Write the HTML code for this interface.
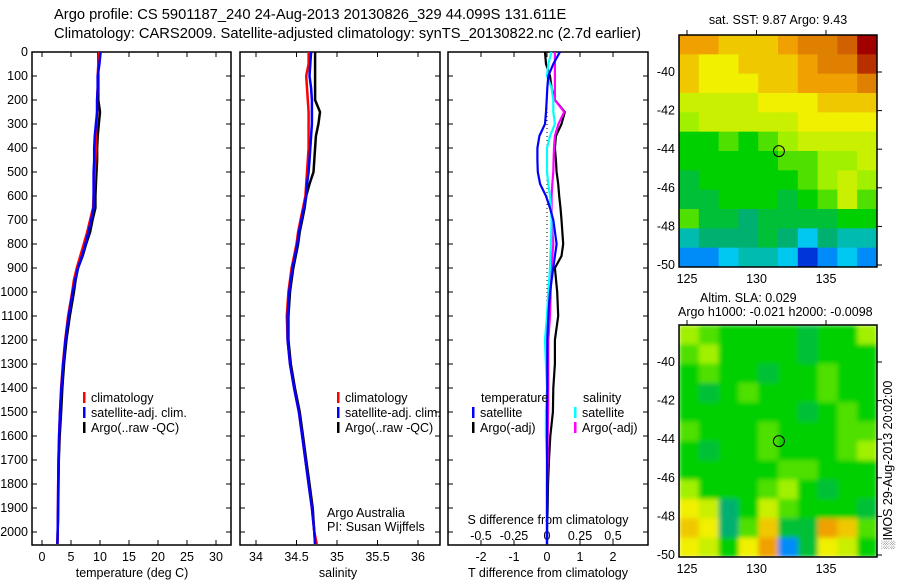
<!DOCTYPE html>
<html><head><meta charset="utf-8"><style>
html,body{margin:0;padding:0;background:#fff;}
svg{display:block;font-family:"Liberation Sans",sans-serif;}
</style></head><body>
<svg id="fig" width="900" height="580" viewBox="0 0 900 580" xmlns="http://www.w3.org/2000/svg">
<defs>
<filter id="blur" x="0" y="0" width="1" height="1"><feGaussianBlur stdDeviation="2.5" edgeMode="duplicate"/></filter>
<clipPath id="slaclip"><rect x="679" y="325" width="198" height="232"/></clipPath>
</defs>
<text x="54" y="19" font-size="14.7">Argo profile: CS 5901187_240 24-Aug-2013 20130826_329 44.099S 131.611E</text>
<text x="54" y="38" font-size="14.7">Climatology: CARS2009. Satellite-adjusted climatology: synTS_20130822.nc (2.7d earlier)</text>
<g id="g"></g>
</svg>
<script>
// ---------- data ----------
const depths = [0,50,100,150,200,250,300,350,400,450,500,550,600,650,700,750,800,850,900,950,1000,1100,1200,1300,1400,1500,1600,1700,1800,1900,2000,2050];
const tempClim = [9.8,9.7,9.6,9.6,9.5,9.5,9.4,9.3,9.3,9.2,9.1,9.0,8.9,8.8,8.3,7.8,7.2,6.6,6.0,5.5,5.2,4.5,4.0,3.6,3.3,3.1,2.95,2.85,2.8,2.75,2.7,2.65];
const tempSat  = [10.1,9.9,9.6,9.6,9.5,9.5,9.3,9.1,9.0,9.0,8.9,8.9,8.9,8.9,8.5,8.0,7.5,6.9,6.2,5.7,5.3,4.6,4.05,3.65,3.35,3.1,2.95,2.85,2.8,2.75,2.7,2.65];
const tempArgo = [9.7,9.7,9.7,9.7,9.7,10.0,9.8,9.6,9.5,9.5,9.4,9.3,9.2,9.2,8.7,8.3,7.6,7.0,6.2,5.8,5.5,4.8,4.2,3.8,3.5,3.3,3.05,2.9,2.85,2.8,2.7,2.65];
const salClim = [34.65,34.65,34.62,34.63,34.64,34.65,34.65,34.65,34.65,34.64,34.63,34.62,34.61,34.58,34.55,34.52,34.5,34.47,34.44,34.42,34.4,34.38,34.39,34.42,34.47,34.53,34.57,34.61,34.65,34.69,34.72,34.75];
const salSat  = [34.68,34.67,34.66,34.68,34.69,34.69,34.69,34.68,34.67,34.66,34.65,34.63,34.62,34.59,34.56,34.53,34.51,34.48,34.45,34.43,34.41,34.39,34.39,34.42,34.47,34.53,34.57,34.61,34.65,34.69,34.72,34.73];
const salArgo = [34.73,34.73,34.73,34.73,34.73,34.79,34.77,34.74,34.73,34.72,34.71,34.66,34.62,34.6,34.57,34.54,34.52,34.49,34.46,34.44,34.42,34.4,34.4,34.43,34.48,34.54,34.58,34.62,34.66,34.7,34.72,34.73];
const dDepths = [0,50,100,150,200,250,300,350,400,450,500,550,600,650,700,800,850,900,1000,1100,1200,1300,1400,1500,1600,1700,1800,1900,2000,2050];
const dTsat  = [0.39,0.19,0.04,0.01,-0.01,-0.03,-0.06,-0.23,-0.29,-0.29,-0.28,-0.21,-0.03,0.09,0.19,0.29,0.24,0.19,0.09,0.04,0.01,0.01,0.01,0,0,0,0,0,0,0];
const dTargo = [-0.06,-0.03,0.09,0.14,0.24,0.54,0.44,0.27,0.24,0.27,0.29,0.34,0.37,0.41,0.44,0.49,0.44,0.24,0.31,0.34,0.24,0.24,0.19,0.18,0.1,0.06,0.03,0.02,0,0];
const dSsat  = [0.035,0.01,0,0.035,0.048,0.048,0.06,0.023,0,0,0,0.01,0.023,0.03,0.035,0.03,0.025,0.023,0.01,0,-0.015,-0.008,0,-0.008,-0.008,0,0,0,0,0];
const dSargo = [0.06,0.06,0.06,0.06,0.06,0.13,0.086,0.06,0.053,0.05,0.048,0.04,0.035,0.035,0.035,0.048,0.04,0.035,0.028,0.023,0.01,0.01,0.01,0.008,0.005,0.005,0,0,0,0];
const depthTicks = [0,100,200,300,400,500,600,700,800,900,1000,1100,1200,1300,1400,1500,1600,1700,1800,1900,2000];
const tTicks = [0,5,10,15,20,25,30];
const sTicks = [34,34.5,35,35.5,36];
const dTticks = [-2,-1,0,1,2];
const dSticks = [-0.5,-0.25,0,0.25,0.5];
const dSlabels = ["-0.5","-0.25","0","0.25","0.5"];
const sstGrid = [
[7.5,7.5,7,7,7,7.5,8,8,8.5,9.5],
[7,6.5,6.5,7,7,7,7.5,8,8,9],
[7,6.5,6.5,6.5,7,7,7.5,7.5,7.5,8],
[6,6,6,6,6.5,6.5,6.5,7,7,7],
[5.5,6,6,6,6,6,6.5,6.5,6.5,6.5],
[4.5,4.5,5,4.5,5,5.5,6,6,6,6],
[4.5,4.5,4.5,4.5,4.5,5,5,5.5,5.5,6],
[4,4.5,4.5,4.5,4.5,4.5,5,5.5,6,5.5],
[4,4,4.5,4.5,4.5,4,4.5,5,6,5],
[5,4,4,3.5,4,4,4,4,4.5,4.5],
[3,3.5,3.5,3.5,4,3.5,2.5,3.5,3,3],
[2,2,2.5,3,3,2.5,1,2,2.5,2]];
const slaGrid = [
[5.5,5,4.5,4.5,4.5,4.5,4,4.5,4.5,5.5],
[5,5.5,4.5,4.5,4.5,4.5,4,4.5,4.5,4.5],
[4.5,5,4.5,4.5,4,4.5,4.5,5,4.5,4.5],
[4.5,4,4.5,5,4.5,4.5,4.5,5,4.5,4.5],
[4.5,4.5,4.5,4.5,4.5,4.5,4,4.5,5,4.5],
[5,4.5,4.5,4.5,5,4.5,4.5,4.5,5,5],
[4.5,4,4.5,4.5,5,4.5,4.5,4.5,5,5.5],
[4.5,4.5,4.5,4.5,4.5,5,5,4.5,4.5,4.5],
[5.5,4.5,4.5,4.5,5,5.5,4.5,4,4.5,4.5],
[6.5,6,3.5,4.5,6,5,4.5,4.5,4.5,4],
[7,6.5,3.5,5,7,4,4,7.5,7,5],
[6.5,6,4.5,6.5,7.5,2,4,6.5,6,4.5]];
const lonTicks = [125,130,135];
const latTicks = [-40,-42,-44,-46,-48,-50];
const argoLon = 131.611, argoLat = -44.099;

// ---------- helpers ----------
const NS="http://www.w3.org/2000/svg", G=document.getElementById('g');
const FS=12.5;
function mk(tag,attrs,txt,parent){const e=document.createElementNS(NS,tag);for(const k in attrs)e.setAttribute(k,attrs[k]);if(txt!==undefined)e.textContent=txt;(parent||G).appendChild(e);return e;}
const top0=52, bot=545;
const yD = d => top0 + d*0.24;
function panel(x0,x1,name){
  const r=mk('rect',{x:x0,y:top0,width:x1-x0,height:bot-top0,fill:'none',stroke:'#000','stroke-width':1.5});
  
  
  depthTicks.forEach(d=>{mk('line',{x1:x0,x2:x0+5,y1:yD(d),y2:yD(d),stroke:'#000'});mk('line',{x1:x1-5,x2:x1,y1:yD(d),y2:yD(d),stroke:'#000'});});
}
function xticks(xs,fx,labels,ylab,name){
  xs.forEach((v,i)=>{const x=fx(v);mk('line',{x1:x,x2:x,y1:bot,y2:bot-5,stroke:'#000'});mk('line',{x1:x,x2:x,y1:top0,y2:top0+5,stroke:'#000'});
    const t=mk('text',{x:x,y:ylab,'font-size':FS,'text-anchor':'middle'},labels?labels[i]:String(v));
    
    });
}
function line(xs,ds,fx,color,w,name){
  const p=xs.map((v,i)=>fx(v).toFixed(1)+','+yD(ds[i]).toFixed(1)).join(' ');
  const e=mk('polyline',{points:p,fill:'none',stroke:color,'stroke-width':w,'stroke-linejoin':'miter'});
  
  
}
function legend(x,y,items,name){
  items.forEach((it,i)=>{mk('rect',{x:x,y:y+i*15-10,width:2.5,height:11,fill:it[1]});
    const t=mk('text',{x:x+8,y:y+i*15,'font-size':FS},it[0]);
    
    });
}
depthTicks.forEach(d=>{const t=mk('text',{x:28,y:yD(d)+4,'font-size':FS,'text-anchor':'end'},String(d));
  
  });

// panel 1 temperature
const fT = v => 42 + v*5.8;
panel(32,231,'temperature-panel');
xticks(tTicks,fT,null,561,'temperature-tick-label');
mk('text',{x:132,y:577,'font-size':FS,'text-anchor':'middle',},'temperature (deg C)');
line(tempArgo,depths,fT,'#000',2.5,'temp-argo-line');
line(tempClim,depths,fT,'#f00',2.5,'temp-climatology-line');
line(tempSat,depths,fT,'#00f',2.5,'temp-satellite-line');
legend(83,402,[['climatology','#f00'],['satellite-adj. clim.','#00f'],['Argo(..raw -QC)','#000']],'temperature-legend-entry');

// panel 2 salinity
const fS = v => 256 + (v-34)*81;
panel(240,440,'salinity-panel');
xticks(sTicks,fS,null,561,'salinity-tick-label');
mk('text',{x:338,y:577,'font-size':FS,'text-anchor':'middle',},'salinity');
line(salArgo,depths,fS,'#000',2.5,'sal-argo-line');
line(salClim,depths,fS,'#f00',2.5,'sal-climatology-line');
line(salSat,depths,fS,'#00f',2.5,'sal-satellite-line');
legend(337,402,[['climatology','#f00'],['satellite-adj. clim.','#00f'],['Argo(..raw -QC)','#000']],'salinity-legend-entry');
mk('text',{x:327,y:517,'font-size':FS,},'Argo Australia');
mk('text',{x:327,y:531,'font-size':FS,},'PI: Susan Wijffels');

// panel 3 differences
const fdT = v => 547 + v*33;
const fdS = v => 547 + v*132;
panel(448,648,'difference-panel');
mk('line',{x1:547,x2:547,y1:100,y2:bot,stroke:'#000','stroke-dasharray':'1,3',});
xticks(dTticks,fdT,null,561,'t-diff-tick-label');
dSticks.forEach((v,i)=>{const t=mk('text',{x:fdS(v),y:540,'font-size':FS,'text-anchor':'middle'},dSlabels[i]);
  
  });
mk('text',{x:548,y:524,'font-size':FS,'text-anchor':'middle',},'S difference from climatology');
mk('text',{x:548,y:577,'font-size':FS,'text-anchor':'middle',},'T difference from climatology');
line(dTargo,dDepths,fdT,'#000',2.2,'t-diff-argo-line');
line(dSargo,dDepths,fdS,'#f0f',2.2,'s-diff-argo-line');
line(dSsat,dDepths,fdS,'#0ff',2.2,'s-diff-satellite-line');
line(dTsat,dDepths,fdT,'#00f',2.2,'t-diff-satellite-line');
mk('text',{x:481,y:402,'font-size':FS,},'temperature');
mk('text',{x:583,y:402,'font-size':FS,},'salinity');
legend(472,417,[['satellite','#00f'],['Argo(-adj)','#000']],'t-diff-legend-entry');
legend(574,417,[['satellite','#0ff'],['Argo(-adj)','#f0f']],'s-diff-legend-entry');

// ---------- maps ----------
const stops=[[0,[0,0,143]],[1.5,[0,80,255]],[2.5,[0,200,240]],[3.5,[0,176,112]],[4.5,[0,208,0]],[5.5,[160,240,0]],[6.5,[240,240,0]],[7.5,[240,160,0]],[8.5,[208,96,0]],[9.5,[160,0,0]]];
function cmap(v){for(let i=0;i<stops.length-1;i++){const a=stops[i],b=stops[i+1];if(v<=b[0]){const t=Math.max(0,(v-a[0])/(b[0]-a[0]));return 'rgb('+a[1].map((c,k)=>Math.round(c+(b[1][k]-c)*t)).join(',')+')';}}return 'rgb(160,0,0)';}
const mL=679,mR=877;
const fLon = v => 687 + (v-125)*13.9;
function map(grid,mT,name,cellName,smooth){
  const mB=mT+232;
  const latY=v=>mB-2-(v+50)*19.3;
  const rows=grid.length, cols=grid[0].length, cw=(mR-mL)/cols, ch=(mB-mT)/rows;
  let holder=G;
  if(smooth){const outer=mk('g',{'clip-path':'url(#slaclip)'});holder=mk('g',{filter:'url(#blur)'},undefined,outer);}
  grid.forEach((row,r)=>row.forEach((v,c)=>{
    const e=mk('rect',{x:mL+c*cw,y:mT+r*ch,width:cw+0.5,height:ch+0.5,fill:cmap(v)},undefined,holder);
    
    
  }));
  const fr=mk('rect',{x:mL,y:mT,width:mR-mL,height:mB-mT,fill:'none',stroke:'#000','stroke-width':1.5});
  
  
  latTicks.forEach(v=>{const y=latY(v);mk('line',{x1:mR,x2:mR+5,y1:y,y2:y,stroke:'#000'});
    const t=mk('text',{x:675,y:y+4,'font-size':FS,'text-anchor':'end'},String(v));
    
    });
  lonTicks.forEach(v=>{const x=fLon(v);mk('line',{x1:x,x2:x,y1:mT,y2:mT-5,stroke:'#000'});
    const t=mk('text',{x:x,y:mB+16,'font-size':FS,'text-anchor':'middle'},String(v));
    
    });
  const c=mk('circle',{cx:fLon(argoLon),cy:latY(argoLat),r:5.5,fill:'none',stroke:'#000','stroke-width':1});
  
  
}
map(sstGrid,35,'sst-map','sst-cell',false);
mk('text',{x:778,y:24,'font-size':FS,'text-anchor':'middle',},'sat. SST: 9.87 Argo: 9.43');
map(slaGrid,325,'sla-map','sla-cell',true);
mk('text',{x:700,y:302,'font-size':FS,},'Altim. SLA: 0.029');
mk('text',{x:678,y:316,'font-size':FS,},'Argo h1000: -0.021 h2000: -0.0098');
mk('text',{x:0,y:0,'font-size':FS,'text-anchor':'middle',transform:'translate(892,465) rotate(-90)',},'\u2591IMOS 29-Aug-2013 20:02:00');
</script>
</body></html>
